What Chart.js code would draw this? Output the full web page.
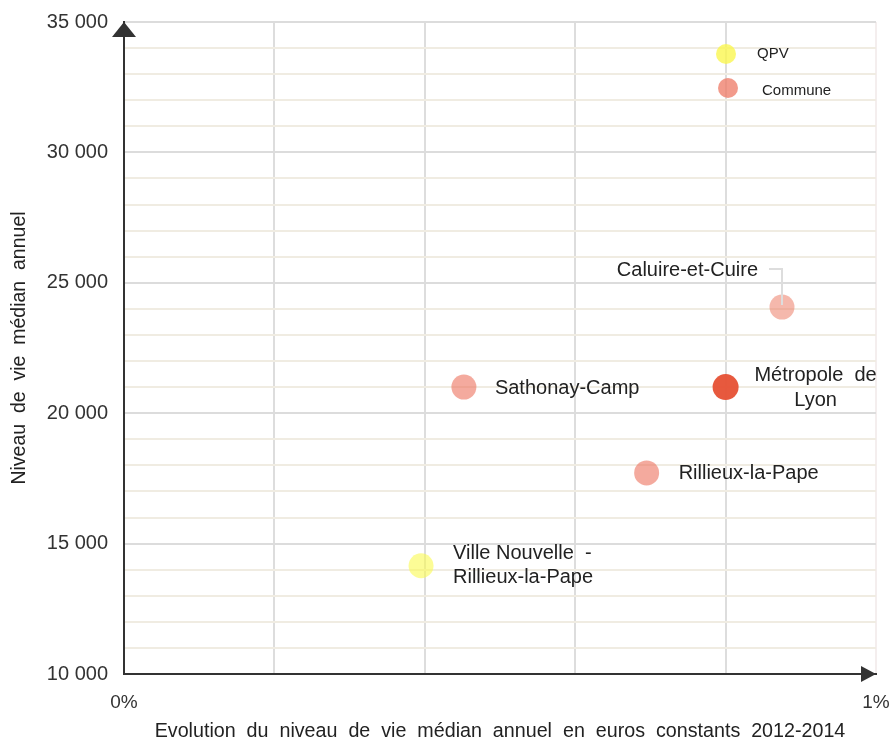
<!DOCTYPE html>
<html>
    <head>
        <meta charset="UTF-8">
        <title>Niveau de vie médian</title>
        <script src="https://cdn.jsdelivr.net/npm/chart.js@4.4.0/dist/chart.umd.min.js"></script>
        <style>
            body { margin: 0; background: #ffffff; overflow: hidden; }
            canvas { display: block; }
        </style>
    </head>
    <body>
        <canvas id="chart" width="893" height="743"></canvas>

        <script>
            // QPV (quartier prioritaire)
            var qpvNames = ['Ville Nouvelle - Rillieux-la-Pape'];
            var qpvX = [0.395];
            var qpvY = [14150];

            // communes + métropole
            var communeNames = ['Caluire-et-Cuire', 'Métropole de Lyon', 'Sathonay-Camp', 'Rillieux-la-Pape'];
            var communeX = [0.875, 0.80, 0.452, 0.695];
            var communeY = [24070, 21000, 21000, 17710];

            var xTicks = [0, 1];
            var yTicks = [10000, 15000, 20000, 25000, 30000, 35000];

            function toPoints(xs, ys){
                var pts = [];
                for(var i=0;i<xs.length;i++){
                    pts.push({x: xs[i], y: ys[i]});
                }
                return pts;
            }

            var FONT = '"Liberation Sans", Arial, sans-serif';

            // labels next to points, legend and arrow heads
            var decorations = {
                id: 'decorations',
                afterDatasetsDraw: function(chart){
                    var ctx = chart.ctx;
                    var area = chart.chartArea;
                    var qpv = chart.getDatasetMeta(0).data;
                    var com = chart.getDatasetMeta(1).data;
                    ctx.save();
                    ctx.fillStyle = '#222222';
                    ctx.font = '20px ' + FONT;
                    ctx.textBaseline = 'middle';

                    // Caluire: text above left with leader line
                    var p = com[0];
                    ctx.textAlign = 'right';
                    ctx.fillText('Caluire-et-Cuire', p.x - 24, p.y - 37);
                    ctx.strokeStyle = '#dddddd';
                    ctx.lineWidth = 2;
                    ctx.beginPath();
                    ctx.moveTo(p.x - 13, p.y - 38);
                    ctx.lineTo(p.x, p.y - 38);
                    ctx.lineTo(p.x, p.y - 2);
                    ctx.stroke();

                    // Métropole de Lyon
                    p = com[1];
                    ctx.textAlign = 'center';
                    ctx.fillText('Métropole  de', p.x + 90, p.y - 12);
                    ctx.fillText('Lyon', p.x + 90, p.y + 13);

                    // Sathonay
                    p = com[2];
                    ctx.textAlign = 'left';
                    ctx.fillText('Sathonay-Camp', p.x + 31, p.y + 1);

                    // Rillieux
                    p = com[3];
                    ctx.fillText('Rillieux-la-Pape', p.x + 32, p.y + 1);

                    // Ville Nouvelle
                    p = qpv[0];
                    ctx.fillText('Ville Nouvelle  -', p.x + 32, p.y - 12);
                    ctx.fillText('Rillieux-la-Pape', p.x + 32, p.y + 12);

                    // legend
                    ctx.fillStyle = 'rgba(250,246,80,0.8)';
                    ctx.beginPath();
                    ctx.arc(726, 54, 10, 0, Math.PI*2);
                    ctx.fill();
                    ctx.fillStyle = 'rgba(238,120,100,0.75)';
                    ctx.beginPath();
                    ctx.arc(728, 88, 10, 0, Math.PI*2);
                    ctx.fill();
                    ctx.fillStyle = '#222222';
                    ctx.font = '15px ' + FONT;
                    ctx.fillText('QPV', 757, 54);
                    ctx.fillText('Commune', 762, 91);

                    // arrow heads
                    ctx.fillStyle = '#333333';
                    ctx.beginPath();
                    ctx.moveTo(area.left, area.top);
                    ctx.lineTo(area.left - 12, area.top + 15);
                    ctx.lineTo(area.left + 12, area.top + 15);
                    ctx.closePath();
                    ctx.fill();
                    ctx.beginPath();
                    ctx.moveTo(area.right, area.bottom);
                    ctx.lineTo(area.right - 15, area.bottom - 8);
                    ctx.lineTo(area.right - 15, area.bottom + 8);
                    ctx.closePath();
                    ctx.fill();
                    ctx.restore();
                }
            };

            var chart = new Chart(document.getElementById('chart').getContext('2d'), {
                type: 'scatter',
                data: {
                    datasets: [{
                        label: 'QPV',
                        data: toPoints(qpvX, qpvY),
                        backgroundColor: 'rgba(250,250,80,0.6)',
                        borderWidth: 0,
                        pointRadius: 12.5
                    }, {
                        label: 'Commune',
                        data: toPoints(communeX, communeY),
                        backgroundColor: [
                            'rgba(235,113,89,0.5)',
                            'rgba(230,80,52,0.95)',
                            'rgba(237,113,93,0.6)',
                            'rgba(237,113,93,0.6)'
                        ],
                        borderWidth: 0,
                        pointRadius: [12.5, 13, 12.5, 12.5]
                    }]
                },
                plugins: [decorations],
                options: {
                    responsive: false,
                    animation: false,
                    devicePixelRatio: 1,
                    layout: { padding: { top: 22, right: 17, left: 0, bottom: 0 } },
                    plugins: {
                        legend: { display: false },
                        tooltip: { enabled: false }
                    },
                    scales: {
                        x: {
                            type: 'linear',
                            min: 0,
                            max: 1,
                            afterFit: function(scale){
                                scale.height = 69;
                                scale.paddingLeft = 0;
                                scale.paddingRight = 0;
                            },
                            afterBuildTicks: function(scale){
                                scale.ticks = [0, 0.2, 0.4, 0.6, 0.8, 1].map(function(v){ return {value: v}; });
                            },
                            ticks: {
                                padding: 17,
                                color: '#333333',
                                font: { family: FONT, size: 19 },
                                maxRotation: 0,
                                autoSkip: false,
                                callback: function(v){
                                    return xTicks.indexOf(v) >= 0 ? (v + '%') : '';
                                }
                            },
                            grid: {
                                drawTicks: false,
                                lineWidth: 2,
                                color: function(c){
                                    if(c.tick && c.tick.value === 1) return '#f4eeee';
                                    return '#dddddd';
                                }
                            },
                            border: { color: '#333333', width: 2 },
                            title: {
                                display: true,
                                text: 'Evolution  du  niveau  de  vie  médian  annuel  en  euros  constants  2012-2014',
                                color: '#222222',
                                font: { family: FONT, size: 19.7 },
                                padding: { top: 0, bottom: 0 }
                            }
                        },
                        y: {
                            type: 'linear',
                            min: 10000,
                            max: 35000,
                            afterFit: function(scale){
                                scale.width = 124;
                                scale.paddingTop = 0;
                                scale.paddingBottom = 0;
                            },
                            ticks: {
                                stepSize: 1000,
                                padding: 16,
                                color: '#333333',
                                font: { family: FONT, size: 20 },
                                autoSkip: false,
                                callback: function(v){
                                    if(yTicks.indexOf(v) < 0) return '';
                                    return String(v).replace(/\B(?=(\d{3})+(?!\d))/g, ' ');
                                }
                            },
                            grid: {
                                drawTicks: false,
                                lineWidth: 2,
                                color: function(c){
                                    if(c.tick && c.tick.value % 5000 === 0) return '#dcdcdc';
                                    return '#f0ece2';
                                }
                            },
                            border: { color: '#333333', width: 2 },
                            title: {
                                display: true,
                                text: 'Niveau  de  vie  médian  annuel',
                                color: '#222222',
                                font: { family: FONT, size: 19.5 },
                                padding: { top: 8, bottom: 0 }
                            }
                        }
                    }
                }
            });
        </script>
    </body>
</html>
